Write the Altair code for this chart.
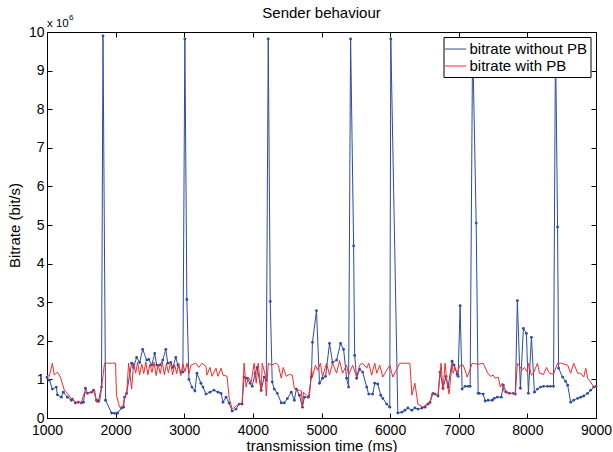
import altair as alt
import pandas as pd

# bitrate without PB (x10^6 bit/s)
blue_t = [1000, 1034, 1078, 1136, 1151, 1209, 1238, 1297, 1356, 1370, 1414, 1458, 1502, 1531,
          1560, 1590, 1648, 1677, 1721, 1750, 1794, 1816, 1853, 1941, 1985, 2029, 2087, 2116,
          2131, 2160, 2233, 2262, 2306, 2350, 2394, 2453, 2482, 2526, 2570, 2599, 2643, 2687,
          2731, 2760, 2804, 2833, 2877, 2907, 2950, 2980, 3009, 3038, 3068, 3112, 3155, 3185,
          3243, 3273, 3316, 3375, 3433, 3492, 3536, 3565, 3609, 3653, 3697, 3755, 3799, 3843,
          3872, 3916, 3960, 3990, 4034, 4063, 4121, 4165, 4195, 4224, 4253, 4282, 4312, 4356,
          4414, 4458, 4502, 4560, 4604, 4634, 4678, 4722, 4751, 4810, 4853, 4868, 4927, 4971,
          5015, 5059, 5117, 5161, 5220, 5278, 5322, 5366, 5395, 5424, 5468, 5483, 5512, 5556,
          5600, 5659, 5688, 5746, 5776, 5820, 5863, 5893, 5951, 5995, 6010, 6112, 6171, 6215,
          6259, 6317, 6361, 6405, 6464, 6508, 6552, 6581, 6625, 6654, 6698, 6727, 6771, 6815,
          6844, 6903, 6932, 6976, 6991, 7020, 7049, 7093, 7137, 7166, 7202, 7254, 7283, 7298,
          7356, 7386, 7429, 7488, 7517, 7561, 7620, 7649, 7693, 7737, 7795, 7825, 7854, 7898,
          7942, 7986, 8015, 8059, 8103, 8147, 8191, 8235, 8293, 8337, 8381, 8410, 8440, 8455,
          8513, 8557, 8587, 8631, 8675, 8733, 8777, 8821, 8879, 8923, 8967, 9000]
blue_v = [1.05, 0.98, 0.75, 0.80, 0.60, 0.54, 0.67, 0.54, 0.46, 0.49, 0.39, 0.41, 0.39, 0.41,
          0.77, 0.64, 0.67, 0.72, 0.46, 0.44, 0.80, 9.90, 0.46, 0.13, 0.12, 0.13, 0.26, 0.28,
          0.54, 0.64, 1.42, 1.31, 1.57, 1.44, 1.78, 1.50, 1.52, 1.37, 1.67, 1.37, 1.37, 1.50,
          1.78, 1.42, 1.44, 1.31, 1.57, 1.37, 1.19, 1.19, 9.82, 3.07, 1.00, 0.80, 0.70, 1.16,
          0.90, 0.80, 0.62, 0.67, 0.72, 0.67, 0.64, 0.41, 0.54, 0.39, 0.18, 0.23, 0.36, 0.36,
          1.06, 1.03, 0.90, 0.82, 1.16, 1.31, 0.72, 1.06, 0.98, 9.82, 3.02, 0.93, 0.75, 0.64,
          0.39, 0.39, 0.50, 0.67, 0.46, 0.75, 0.59, 0.28, 0.54, 0.54, 1.06, 1.96, 2.78, 0.90,
          1.03, 1.08, 1.93, 1.44, 1.50, 1.93, 1.78, 1.03, 0.80, 9.82, 4.46, 1.62, 1.03, 1.26,
          1.19, 0.80, 0.62, 0.62, 0.90, 0.88, 0.59, 0.51, 0.36, 0.28, 9.82, 0.13, 0.15, 0.20,
          0.26, 0.20, 0.26, 0.23, 0.26, 0.28, 0.36, 0.41, 0.64, 0.62, 0.57, 1.19, 0.77, 1.08,
          0.80, 1.47, 1.37, 1.13, 1.08, 2.91, 0.75, 0.82, 0.82, 0.82, 9.80, 5.05, 0.64, 0.64,
          0.62, 0.44, 0.46, 0.46, 0.51, 0.54, 0.54, 0.85, 0.67, 0.64, 0.64, 0.62, 3.04, 0.77,
          2.32, 2.19, 0.64, 2.09, 0.67, 0.75, 0.80, 0.82, 0.82, 0.82, 0.82, 9.80, 4.95, 1.29,
          1.06, 0.95, 0.85, 0.41, 0.46, 0.51, 0.54, 0.57, 0.64, 0.72, 0.80, 0.82]

# bitrate with PB (x10^6 bit/s)
red_t = [1000, 1034, 1078, 1107, 1151, 1195, 1253, 1297, 1356, 1399, 1443, 1502, 1546, 1590,
         1648, 1692, 1721, 1765, 1794, 1838, 1882, 1955, 1999, 2013, 2058, 2102, 2131, 2160,
         2189, 2233, 2262, 2292, 2321, 2350, 2380, 2410, 2440, 2470, 2500, 2530, 2560, 2590,
         2620, 2650, 2680, 2710, 2740, 2770, 2800, 2830, 2860, 2890, 2920, 2950, 2980, 3010,
         3040, 3070, 3097, 3170, 3214, 3258, 3316, 3331, 3375, 3404, 3463, 3492, 3536, 3565,
         3624, 3653, 3697, 3770, 3799, 3843, 3872, 3902, 3931, 3975, 4019, 4048, 4078, 4121,
         4136, 4180, 4195, 4224, 4268, 4341, 4370, 4414, 4443, 4487, 4531, 4575, 4604, 4634,
         4678, 4707, 4722, 4736, 4780, 4824, 4853, 4868, 4912, 4941, 4985, 5015, 5073, 5117,
         5161, 5220, 5263, 5307, 5366, 5395, 5454, 5512, 5556, 5600, 5659, 5688, 5732, 5776,
         5805, 5849, 5893, 5951, 5995, 6039, 6141, 6288, 6317, 6361, 6405, 6478, 6552, 6581,
         6610, 6698, 6742, 6771, 6801, 6830, 6859, 6903, 6918, 6947, 6976, 7020, 7064, 7108,
         7122, 7152, 7196, 7283, 7356, 7415, 7459, 7503, 7532, 7576, 7605, 7634, 7664, 7708,
         7751, 7825, 7854, 7898, 7927, 7956, 8000, 8015, 8059, 8088, 8147, 8176, 8235, 8279,
         8323, 8381, 8440, 8484, 8587, 8631, 8675, 8733, 8777, 8821, 8850, 8879, 8923, 8967,
         9000]
red_v = [1.11, 1.08, 1.42, 1.11, 1.19, 1.06, 0.72, 0.64, 0.49, 0.44, 0.39, 0.41, 0.67, 0.64,
         0.67, 0.75, 0.41, 0.41, 0.75, 1.42, 1.42, 1.42, 1.42, 0.59, 0.28, 0.28, 0.54, 0.59,
         1.42, 0.75, 1.42, 1.16, 1.44, 1.11, 1.40, 1.15, 1.45, 1.12, 1.40, 1.18, 1.45, 1.10,
         1.38, 1.15, 1.45, 1.12, 1.40, 1.17, 1.45, 1.12, 1.38, 1.15, 1.42, 1.10, 1.40, 1.20,
         1.42, 1.15, 1.37, 1.42, 1.31, 1.42, 1.34, 1.11, 1.31, 1.08, 1.29, 1.08, 1.29, 1.11,
         1.08, 0.54, 0.23, 0.33, 0.36, 0.39, 1.42, 0.80, 1.06, 0.93, 1.42, 0.90, 1.42, 0.67,
         1.42, 1.11, 0.57, 1.42, 1.37, 1.42, 1.37, 1.03, 1.31, 1.08, 1.13, 1.11, 0.77, 0.72,
         0.72, 0.70, 0.28, 0.67, 0.59, 0.54, 1.29, 1.06, 1.37, 1.24, 1.42, 1.06, 1.42, 1.11,
         1.42, 1.16, 1.49, 1.16, 1.37, 1.11, 1.37, 1.06, 1.37, 1.42, 1.29, 1.42, 1.11, 1.42,
         1.16, 1.37, 1.06, 1.24, 1.37, 1.06, 1.42, 1.42, 0.59, 0.90, 0.36, 0.28, 0.39, 0.36,
         0.64, 0.59, 1.42, 0.72, 1.42, 0.90, 0.62, 1.42, 1.16, 1.31, 1.16, 1.37, 1.37, 1.16,
         1.06, 1.19, 1.42, 1.39, 1.42, 1.19, 1.08, 1.11, 1.03, 1.06, 0.80, 0.90, 0.67, 0.67,
         0.64, 0.62, 1.42, 1.31, 1.24, 1.31, 1.19, 1.42, 1.11, 1.16, 1.42, 1.16, 1.13, 1.31,
         1.16, 1.13, 1.42, 1.42, 1.37, 1.16, 1.42, 1.16, 1.16, 1.06, 1.29, 1.03, 0.93, 0.80,
         0.85]

series_names = ["bitrate without PB", "bitrate with PB"]
series_colors = ["#2b4ca6", "#f62a2a"]
x_ticks = [1000, 2000, 3000, 4000, 5000, 6000, 7000, 8000, 9000]
y_ticks = [0, 1, 2, 3, 4, 5, 6, 7, 8, 9, 10]
title_text = "Sender behaviour"

blue_df = pd.DataFrame({"t": blue_t, "v": blue_v, "series": series_names[0]})
red_df = pd.DataFrame({"t": red_t, "v": red_v, "series": series_names[1]})

FONT = "Liberation Sans"
W, H = 549, 386
xscale = alt.Scale(domain=[1000, 9000], nice=False, zero=False)
yscale = alt.Scale(domain=[0, 10], nice=False)
cscale = alt.Scale(domain=series_names, range=series_colors)

common = dict(labelFont=FONT, labelFontSize=14, labelColor="#000", titleFont=FONT,
              titleFontSize=15, titleFontWeight="normal", titleColor="#000",
              tickColor="#000", tickWidth=1, tickSize=5, offset=-5, domain=False, grid=False)

x_bottom = alt.Axis(orient="bottom", values=x_ticks, format="d", labelPadding=5,
                    labelFlush=False, labelOverlap=False, title="transmission time (ms)",
                    titlePadding=1, **common)
y_left = alt.Axis(orient="left", values=y_ticks, format="d", labelPadding=3,
                  labelFlush=False, labelOverlap=False, title="Bitrate (bit/s)",
                  titlePadding=6, **common)
x_top = alt.Axis(orient="top", values=x_ticks, labels=False, title=None, **common)
y_right = alt.Axis(orient="right", values=y_ticks, labels=False, title=None, **common)

legend = alt.Legend(title=None, orient="none", legendX=396.5, legendY=5,
                    symbolType="M-1.25,0H1.25", symbolSize=289, symbolStrokeWidth=1,
                    labelFont=FONT, labelFontSize=15, labelColor="#000",
                    strokeColor="#000", padding=3, rowPadding=0,
                    labelOffset=5, fillColor="white", labelLimit=300)

blue_line = alt.Chart(blue_df).mark_line(strokeWidth=1, clip=True).encode(
    x=alt.X("t:Q", scale=xscale, axis=x_bottom),
    y=alt.Y("v:Q", scale=yscale, axis=y_left),
    color=alt.Color("series:N", scale=cscale, legend=legend),
)
blue_pts = alt.Chart(blue_df).mark_circle(size=8, color=series_colors[0], opacity=1).encode(
    x=alt.X("t:Q", scale=xscale, axis=x_top),
    y=alt.Y("v:Q", scale=yscale, axis=y_right),
)
red_line = alt.Chart(red_df).mark_line(strokeWidth=1, clip=True).encode(
    x=alt.X("t:Q", scale=xscale, axis=None),
    y=alt.Y("v:Q", scale=yscale, axis=None),
    color=alt.Color("series:N", scale=cscale, legend=legend),
)

# legend marker dot for the blue series
legend_dot = alt.Chart(pd.DataFrame({"s": [series_names[0]]})).mark_square(
    size=9, color=series_colors[0], opacity=1
).encode(x=alt.value(408.5), y=alt.value(16.8))

title_mark = alt.Chart(pd.DataFrame({"s": [title_text]})).mark_text(
    font=FONT, fontSize=15, align="center", baseline="alphabetic", color="#000"
).encode(text="s:N", x=alt.value(W / 2), y=alt.value(-14))

exp_main = alt.Chart(pd.DataFrame({"s": ["x 10"]})).mark_text(
    font=FONT, fontSize=11.5, align="left", baseline="alphabetic", color="#000"
).encode(text="s:N", x=alt.value(0), y=alt.value(-5))
exp_sup = alt.Chart(pd.DataFrame({"s": ["6"]})).mark_text(
    font=FONT, fontSize=8, align="left", baseline="alphabetic", color="#000"
).encode(text="s:N", x=alt.value(22), y=alt.value(-12.5))

chart = alt.layer(blue_line, blue_pts, red_line, legend_dot, title_mark, exp_main,
                  exp_sup).resolve_axis(
    x="independent", y="independent"
).properties(
    width=W, height=H,
    padding={"left": 47, "top": 32, "right": 17, "bottom": 34},
    autosize=alt.AutoSizeParams(type="none"),
    background="white",
).configure_view(stroke="#000", strokeWidth=1)

chart.save("out.html", embed_options={"renderer": "svg", "actions": False})
